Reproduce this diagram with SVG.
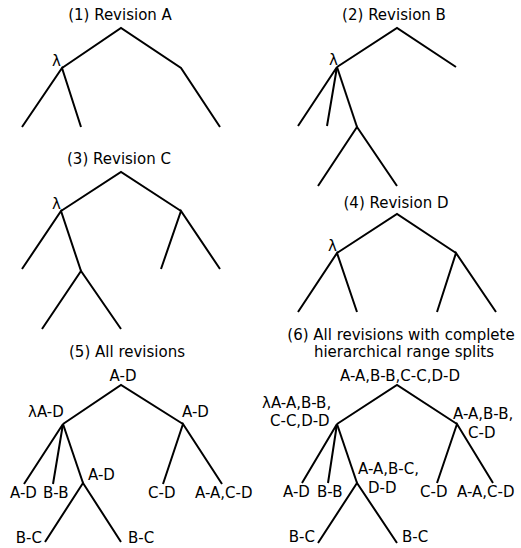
<svg xmlns="http://www.w3.org/2000/svg" width="521" height="548" viewBox="0 0 521 548">
  <style>
    .edge { fill: none; stroke: #000; stroke-width: 2; stroke-linejoin: miter; stroke-linecap: butt; }
    text { font-family: "DejaVu Sans", Verdana, sans-serif; font-size: 15px; fill: #000; }
    .title { text-anchor: middle; }
    .mid { text-anchor: middle; }
    .end { text-anchor: end; }
  </style>
  <rect width="521" height="548" fill="#fff"/>

  <!-- (1) Revision A -->
  <g id="tree1">
    <text class="title" x="120" y="20">(1) Revision A</text>
    <g id="tree1-edges">
      <path class="edge" d="M62,68 L121,28 L181,68 L220,127"/>
      <path class="edge" d="M22,127 L62,68 L81,127"/>
    </g>
    <g id="tree1-lambda"><text x="52" y="66">λ</text></g>
  </g>

  <!-- (2) Revision B -->
  <g id="tree2">
    <text class="title" x="394" y="20">(2) Revision B</text>
    <g id="tree2-edges">
      <path class="edge" d="M337,67 L397,28 L456,67"/>
      <path class="edge" d="M298,126 L337,67 L327,126"/>
      <path class="edge" d="M337,67 L357,127"/>
      <path class="edge" d="M318,186 L357,127 L397,186"/>
    </g>
    <g id="tree2-lambda"><text x="329" y="65">λ</text></g>
  </g>

  <!-- (3) Revision C -->
  <g id="tree3">
    <text class="title" x="119" y="164">(3) Revision C</text>
    <g id="tree3-edges">
      <path class="edge" d="M61,211 L121,172 L181,211"/>
      <path class="edge" d="M22,269 L61,211 L81,271"/>
      <path class="edge" d="M42,329 L81,271 L121,329"/>
      <path class="edge" d="M161,269 L181,211 L220,269"/>
    </g>
    <g id="tree3-lambda"><text x="52" y="209">λ</text></g>
  </g>

  <!-- (4) Revision D -->
  <g id="tree4">
    <text class="title" x="396" y="208">(4) Revision D</text>
    <g id="tree4-edges">
      <path class="edge" d="M337,253 L397,214 L456,253"/>
      <path class="edge" d="M298,312 L337,253 L357,312"/>
      <path class="edge" d="M437,312 L456,253 L496,312"/>
    </g>
    <g id="tree4-lambda"><text x="328" y="251">λ</text></g>
  </g>

  <!-- (5) All revisions -->
  <g id="tree5">
    <text class="title" x="127" y="357">(5) All revisions</text>
    <g id="tree5-edges">
      <path class="edge" d="M63,424 L121,385 L183,424"/>
      <path class="edge" d="M24,484 L63,424 L53,484"/>
      <path class="edge" d="M63,424 L83,483"/>
      <path class="edge" d="M45,542 L83,483 L121,542"/>
      <path class="edge" d="M163,484 L183,424 L222,484"/>
    </g>
    <g id="t5-root"><text class="mid" x="123" y="381">A-D</text></g>
    <g id="t5-lambda"><text x="28" y="417">λA-D</text></g>
    <g id="t5-right"><text x="182" y="417">A-D</text></g>
    <g id="t5-inner"><text x="88" y="480">A-D</text></g>
    <g id="t5-leaf-ad"><text x="10" y="498">A-D</text></g>
    <g id="t5-leaf-bb"><text x="43" y="498">B-B</text></g>
    <g id="t5-leaf-bc1"><text class="end" x="42" y="543">B-C</text></g>
    <g id="t5-leaf-bc2"><text x="128" y="543">B-C</text></g>
    <g id="t5-leaf-cd"><text x="148" y="498">C-D</text></g>
    <g id="t5-leaf-aacd"><text x="195" y="498">A-A,C-D</text></g>
  </g>

  <!-- (6) All revisions with complete hierarchical range splits -->
  <g id="tree6">
    <text class="title" x="401" y="340">(6) All revisions with complete</text>
    <text class="title" x="404" y="357">hierarchical range splits</text>
    <g id="tree6-edges">
      <path class="edge" d="M337,424 L397,385 L457,424"/>
      <path class="edge" d="M302,483 L337,424 L328,483"/>
      <path class="edge" d="M337,424 L357,483"/>
      <path class="edge" d="M318,543 L357,483 L397,543"/>
      <path class="edge" d="M437,483 L457,424 L493,483"/>
    </g>
    <g id="t6-root"><text class="mid" x="400" y="381">A-A,B-B,C-C,D-D</text></g>
    <g id="t6-lambda">
      <text x="262" y="408">λA-A,B-B,</text>
      <text x="270" y="426">C-C,D-D</text>
    </g>
    <g id="t6-right">
      <text x="453" y="419">A-A,B-B,</text>
      <text x="468" y="438">C-D</text>
    </g>
    <g id="t6-inner">
      <text x="358" y="474">A-A,B-C,</text>
      <text x="368" y="493">D-D</text>
    </g>
    <g id="t6-leaf-ad"><text x="283" y="497">A-D</text></g>
    <g id="t6-leaf-bb"><text x="317" y="497">B-B</text></g>
    <g id="t6-leaf-bc1"><text class="end" x="315" y="542">B-C</text></g>
    <g id="t6-leaf-bc2"><text x="402" y="542">B-C</text></g>
    <g id="t6-leaf-cd"><text x="420" y="497">C-D</text></g>
    <g id="t6-leaf-aacd"><text x="457" y="497">A-A,C-D</text></g>
  </g>
</svg>
